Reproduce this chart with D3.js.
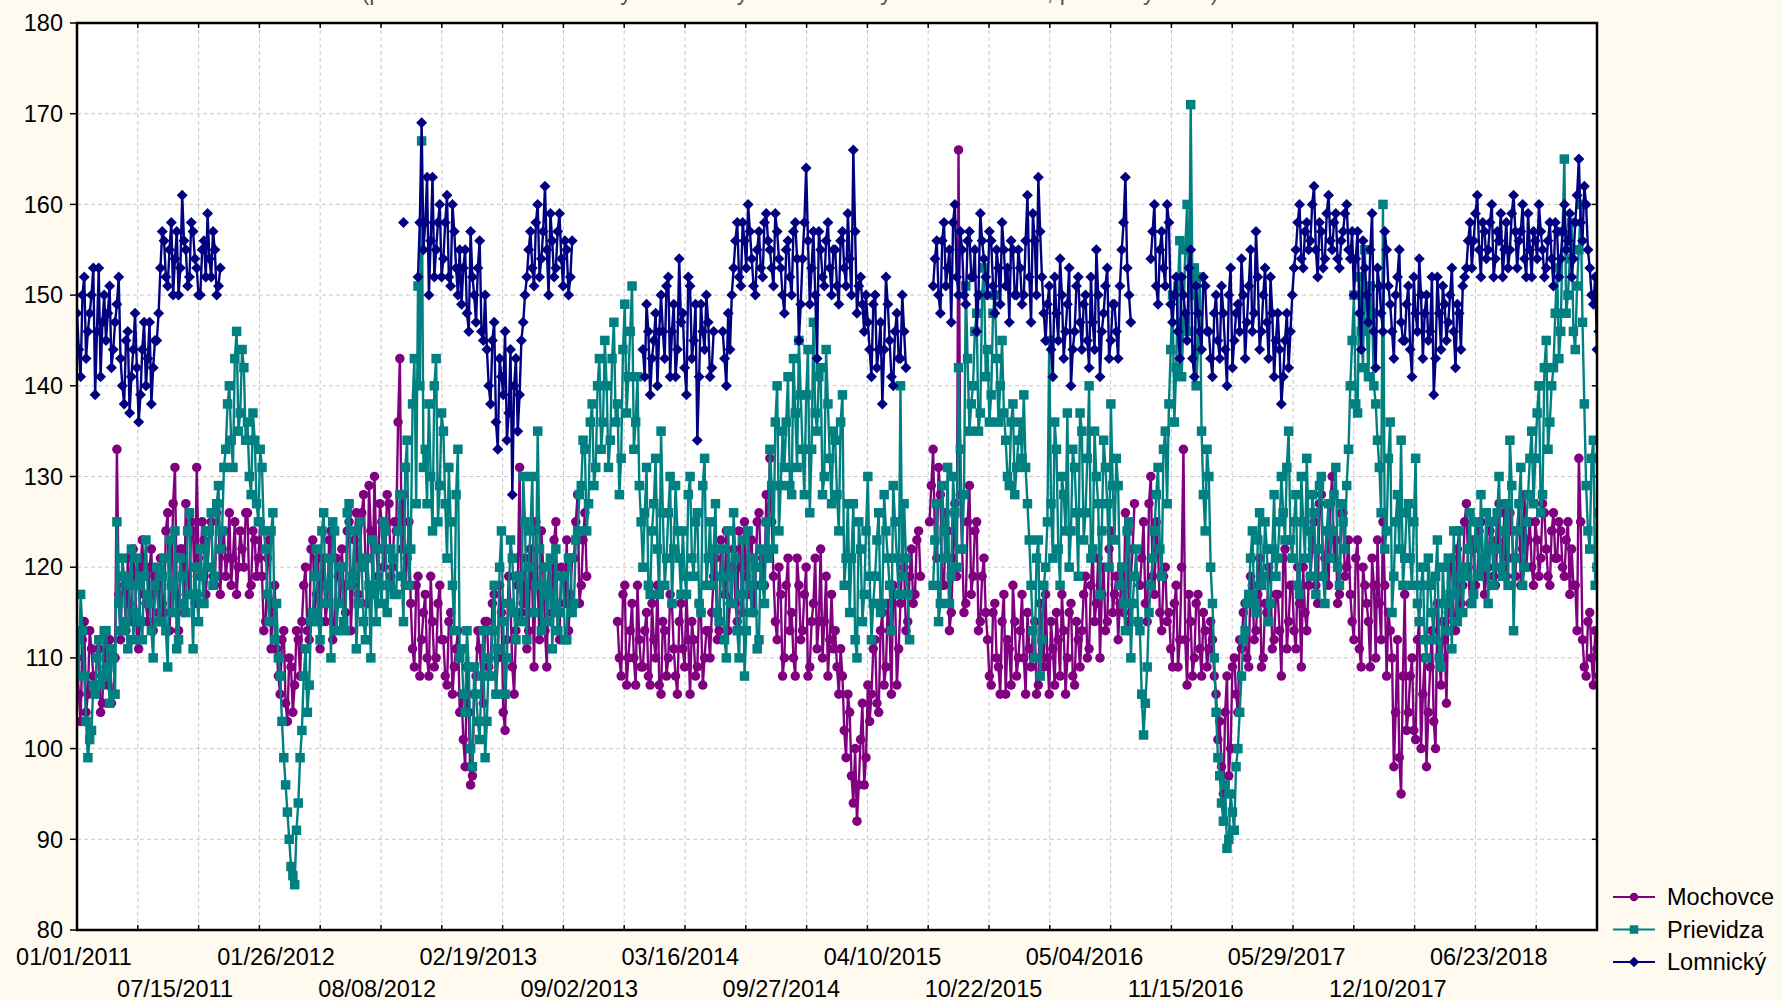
<!DOCTYPE html>
<html>
<head>
<meta charset="utf-8">
<script src="https://cdn.jsdelivr.net/npm/d3@7"></script>
<style>
  body { margin: 0; background: #fffaf0; }
  svg { display: block; font-family: "Liberation Sans", Arial, sans-serif; }
</style>
</head>
<body>
<svg id="chart"></svg>
<script>
// values, twice a week.
// [first week since 01/01/2011, values...]; *Mid arrays sit half a week later
const mochovce = [
  [0, [110,103,114,106,111]],
  [5, [107,111,105,109,112,106]],
  [11, [133]],
  [12, [112,118,121,114,119,111,123,116,120,113,118]],
  [23, [121,115,126,118,131,113,122,127,117,124,131,119,123]],
  [36, [120,125,118,127,122,119,126,121,117,124,120,126,118,123,121]],
  [51, [119,114,123,116]],
  [55, [111,106,113,103,109,107,112]],
  [62, [114,120,112,123,117,111,121,116,124,113,119,122,115,125]],
  [76, [118,126,121,128,116,124,130,119,125,122,127,120]],
  [88, [124,143,128,121]],
  [92, [116,109,119,112,117,108,114,110,118]],
  [101, [112,107,115,109,113,106,98,104,97,108,111,105]],
  [113, [114,108,117,110,115,102,119,109,113,131]],
  [123, [116,111,122,109,118,124,113,120,115,125,112,119,123,117]],
  [137, [121,128,118,126]],
  [149, [114,108,118,110,116,107,112]],
  [156, [109,115,107,112,118,106,113,110,116,108,114,111,117,106,112,109,115,110,113]],
  [175, [115,121,113,119,124,116,122,114,120,125,117,123,118,126,121]],
  [190, [128,132]],
  [192, [119,112,117,110,121,115,108,118,113,120,109,116,111,122,114,108,117]],
  [209, [113,106]],
  [211, [108,99,104,94,92,101,96,107]],
  [219, [106,112,104,115,109,113,118,107,116,120,114,122,117,124]],
  [235, [125,133,121,128]],
  [239, [118,124,115,127,166,122,116,129,119,125,114,121]],
  [251, [112,107,116,109,114,106,111,118,108,113,110,115]],
  [263, [109,114,107,112,117,106,111,115,108,113,110,116,107,112]],
  [277, [113,119,111,122,116,110,120,114,124,117,112]],
  [288, [120,126,114,122]],
  [293, [118,125,114,130,117,122,113,120]],
  [301, [115,109,118,112,133,107,114,110,117,108,113,111]],
  [313, [112,106,103,95,108,100,110,104]],
  [321, [111,116,109,118,113,121,110,115,119,112,117,108,122,114,118,111,116,120,113]],
  [340, [119,125,116,128,121,118,130,123,117,126,120]],
  [351, [117,112,123,109,118,114,121,110,116,125,108,113]],
  [363, [98,112,95,117]],
  [367, [104,110,101,114,106,98,109,103,116,107,112]],
  [378, [115,121,113,124,118,127,116,122,119,125,117]],
  [389, [120,125,118,127,122,119,126,121,124,118,128,123,120,125,119,127,122,118,126,121,124,119,125,122]],
  [413, [118,132,112,108,115,107,111,109]]
];
const mochovceMid = [
  [0, [106,112,104,113,108]],
  [5, [110,104,112,107,105,110]],
  [11, [117]],
  [12, [119,113,116,122,112,120,117,114,122,119,115]],
  [23, [116,124,113,127,117,122,115,119,125,116,121,125,117]],
  [36, [124,119,126,117,124,121,118,125,120,122,126,117,124,119,125]],
  [51, [113,121,111,118]],
  [55, [108,112,105,110,104,113,108]],
  [62, [118,113,122,115,121,118,114,123,112,121,116,118,124,113]],
  [76, [123,117,126,121,129,118,122,127,120,128,119,125]],
  [88, [136,122,118,125]],
  [92, [111,118,108,115,110,119,109,116,112]],
  [101, [108,114,106,111,104,101,109,96,106,113,108,114]],
  [113, [109,116,106,118,104,112,116,106,118,115]],
  [123, [121,113,118,125,112,120,109,117,123,113,120,116,113,121]],
  [137, [125,116,123,119]],
  [149, [110,117,107,113,110,118,109]],
  [156, [113,108,116,110,107,114,108,117,111,106,116,109,112,114,108,116,107,113,110]],
  [175, [119,112,123,117,113,120,116,124,115,119,123,115,125,120,118]],
  [190, [121,125]],
  [192, [114,120,108,118,113,110,121,112,117,108,114,121,114,110,119,112,111]],
  [209, [109,111]],
  [211, [102,106,97,100,96,105,99,103]],
  [219, [111,105,113,107,116,106,117,111,121,113,119,116,123,119]],
  [235, [129,123,131,118]],
  [239, [126,113,121,119,128,115,125,117,124,113,119,115]],
  [251, [108,115,110,106,117,112,107,114,110,117,106,111]],
  [263, [113,106,116,109,110,114,107,112,117,106,115,108,114,109]],
  [277, [117,110,118,114,121,117,113,122,115,119,116]],
  [288, [115,124,119,127]],
  [293, [121,116,127,119,125,115,119,114]],
  [301, [111,116,109,120,112,117,108,116,111,115,109,114]],
  [313, [108,101,98,104,97,109,106,112]],
  [321, [115,110,119,112,117,109,116,120,111,117,113,121,111,118,113,120,109,115,118]],
  [340, [122,118,127,119,124,127,121,116,126,119,123]],
  [351, [114,121,111,120,116,109,118,123,112,118,115,110]],
  [363, [104,99,108,102]],
  [367, [108,102,112,100,110,104,113,100,110,114,105]],
  [378, [120,114,122,116,125,120,123,118,124,121,119]],
  [389, [124,119,123,120,126,121,124,119,127,122,120,125,118,123,121,126,119,124,121,125,120,123,117,118]],
  [413, [113,125,109,114,110,113,108,112]]
];

const prievidza = [
  [0, [112,117,108,99,102]],
  [5, [106,112,108,113,105,110]],
  [11, [125,113,119,111,122,115,118,112,123,116,110,120]],
  [23, [114,121,109,118,124,112,119,115,126,111,117,122,116]],
  [36, [120,126,119,129,124]],
  [41, [133,140,131,146,137,142]],
  [47, [136,128,134,125,131]],
  [52, [122,114,126,116]],
  [56, [108,99,93,87,85,94]],
  [62, [102,111,107]],
  [65, [115,122,112,126,118,110,124,116,120,113,127]],
  [76, [119,111,125,114,121,110,117]],
  [83, [122,116,124,118,121]],
  [88, [117,128,114,134,122,143]],
  [94, [151,167,133]],
  [97, [138,124,143,129,135,121]],
  [103, [125,113,133]],
  [106, [111,104,109,98,106,101,113,103]],
  [114, [108,118,111,124,106,116,121,112]],
  [122, [119,130,112,124,115,135]],
  [128, [113,120,117,111,122,115,119,112,121,116]],
  [138, [124,129,133,127,138,131,143,136,140,134,147,138,132,149,141,151,136,129]],
  [156, [120,131,117,127,122,135,118,126,116,129,121]],
  [167, [124,117,130,119,126,115,132,121,118,127]],
  [177, [114,122,110,119,126,113,117,108,124,115,120,112,118]],
  [190, [125,133,122,140,129]],
  [195, [131,141,128,137,145,133,139,126,147,135,142,130,138,127]],
  [209, [134,124,139,121]],
  [213, [115,127,110,122,117,130,112]],
  [220, [119,126,116,124,118,129,121,140,127,117]],
  [236, [118,127,116,124,131,119,126,142,122,151,135]],
  [247, [140,148,137,153,144,139,150,136,145]],
  [256, [134,129,138,131,136]],
  [261, [139,127]],
  [263, [118,110,123,112,120]],
  [268, [145,121,133,118,128,137,124,131,119,135,126,140,122,130,117,134,127,138,123,129]],
  [288, [120,113,125,116,122]],
  [293, [113,101.5,109,118]],
  [297, [124,131,119,135]],
  [301, [138,150,142,156,147,160,171,153,144]],
  [310, [135,124,130,116]],
  [314, [104,97,92,89,95,91,100]],
  [321, [108,113]],
  [323, [117,124,115,126,119,122,116,128,121]],
  [332, [130,123,135]],
  [335, [121,128,117,125,132,119,126,122,130,116,127,124,131,118,125,129]],
  [351, [140,150,137,146,155,141,148,138]],
  [359, [131,160,124,136,119,128,134,121]],
  [367, [127,118,132]],
  [370, [114,120,110,118,112,123,109,116,121,111,117,124,115]],
  [383, [119,126,117,123,128,120,116,125]],
  [391, [122,130,119,127,134,113,124,131,120,128,135]],
  [402, [132,140,128,145,136]],
  [407, [142,153,146,165,150,158,144,155,147]],
  [416, [129,122,134,120,128]]
];
const prievidzaMid = [
  [0, [108,113,103,101,107]],
  [5, [110,107,113,109,111,106]],
  [11, [116,121,114,118,112,121,114,119,117,113,118,114]],
  [23, [119,113,123,115,111,121,116,124,117,120,114,119,124]],
  [36, [124,118,127,122,131]],
  [41, [138,134,143,135,144,134]],
  [47, [130,137,127,133,124]],
  [52, [117,124,112,110]],
  [56, [103,96,90,86,91,99]],
  [62, [108,104,114]],
  [65, [119,114,124,116,121,125,113,120,114,126,118]],
  [76, [124,116,120,112,118,123,114]],
  [83, [118,125,115,122,117]],
  [88, [124,119,131,118,138,127]],
  [94, [140,131,127]],
  [97, [130,140,125,137,127,131]],
  [103, [118,128,110]],
  [106, [106,113,100,109,103,108,99,110]],
  [114, [113,106,120,114,110,123,115,119]],
  [122, [114,125,120,130,118,122]],
  [128, [118,114,121,116,113,119,112,121,115,123]],
  [138, [128,134,124,136,129,140,133,145,131,143,136,128,144,137,146,133,141,125]],
  [156, [126,118,124,132,117,126,121,130,122,124,117]],
  [167, [119,128,121,125,116,129,118,125,122,115]],
  [177, [119,112,124,116,121,110,123,113,118,121,111,122,116]],
  [190, [121,129,136,124,135]],
  [195, [136,129,143,131,139,128,144,133,137,141,128,144,132,135]],
  [209, [128,136,118,127]],
  [213, [121,112,125,114,124,119,116]],
  [220, [123,115,128,121,113,125,117,119,121,112]],
  [236, [123,114,129,121,116,130,120,133,128,143,138]],
  [247, [146,135,150,141,136,148,143,140,137]],
  [256, [130,136,128,134,132]],
  [261, [131,123]],
  [263, [113,121,108,118,125]],
  [268, [127,136,122,130,124,120,133,126,137,123,132,121,135,127,124,131,120,129,132,118]],
  [288, [116,124,110,119,114]],
  [293, [106,105,115,121]],
  [297, [128,122,133,127]],
  [301, [144,136,151,141,155,146,150,140,152]],
  [310, [128,133,120,110]],
  [314, [99,94,96,90,93,98,104]],
  [321, [112,116]],
  [323, [121,116,123,118,125,114,122,119,125]],
  [332, [126,131,123]],
  [335, [125,118,130,121,124,128,117,129,119,124,121,128,120,127,122,133]],
  [351, [145,138,152,142,147,151,140,134]],
  [359, [126,122,132,115,125,122,118,126]],
  [367, [121,125,116]],
  [370, [118,112,121,115,119,110,120,113,117,124,114,119,120]],
  [383, [122,116,125,119,121,126,122,118]],
  [391, [126,120,124,118,129,121,127,118,125,132,127]],
  [402, [137,126,142,133,140]],
  [407, [148,143,157,148,154,146,151,160,138]],
  [416, [124,132,118,126,122]]
];

const lomnicky = [
  [0, [148,141,152,146,150,139,153,147,145,151,144,149]],
  [12, [143,138,146,141,148,136,144,140,147,142,145]],
  [23, [153,156,151,158,154,150,161,155,152,157,153,150,156,159,152,155,151]],
  [90, [158]],
  [94, [152,169,158,150,163,155,160]],
  [101, [154,161,151,157,150]],
  [106, [149,155,146,152,147,156,145]],
  [113, [144,138,147,133,141,146,137,128,143,139]],
  [123, [147,152]],
  [125, [157,151,160,154,162,150,156,153,159,151,155,152]],
  [156, [144,149,139,145,140]],
  [161, [150,143,152,146,141,154,148,139,151,145,134,149,144,147]],
  [175, [142]],
  [178, [146,140,144]],
  [181, [153,158,151,156,160,154,150,157,152,159,155,151,157,153,148,156,150,158,145,154,164,149,157,143,155,151,158,150]],
  [209, [155,149,157,151,154,166,148,152,146]],
  [218, [147,141,150,144,138,152,145,140,148,143,146]],
  [236, [151,156,148,158,153,147,160,150,155,149,157,152,146,159,154,150,156,148,153,158,151,147,155,150,153]],
  [261, [150,161,147,156,163,152]],
  [267, [145,151,141,148,154,143,149,140,146,152,144,150,142,147,155,141,148,153,145,149,143]],
  [288, [155,163,150]],
  [296, [154,160,149,157,151,158,147,152,143,150,145,155,141,148,144,151]],
  [312, [146,141,150,143,148,140,153,145]],
  [320, [149,154,143,151,146,157,144,150,147,152,141,148,138,145,142,150]],
  [336, [155,160,153,158,156,162,152,157,154,161,155,159,153,157,160,154]],
  [352, [150,157,144,153,147,159,142,151,146,155,149,143,152,147]],
  [366, [145,151,141,148,154,143,150,146,139,152,144,149,147,153,142,148,151]],
  [383, [153,158,156,161,152,157,155,160,154,156,152,158,155,161,153,157,154,159,152,156,160,155,153,158,151,157,154,160,156,152,158]],
  [414, [165,156,160,153,149,144,147]]
];
const lomnickyMid = [
  [0, [144,150,143,148,153,146,141,150,148,142,147,152]],
  [12, [140,145,137,144,142,139,147,143,138,145,148]],
  [23, [157,152,155,150,157,153,156,151,158,154,150,155,152,154,157,150,153]],
  [94, [158,155,163,156,152,158,152]],
  [101, [158,152,160,153,155]],
  [106, [153,148,157,150,153,146,150]],
  [113, [140,145,136,143,139,134,144,140,135,145]],
  [123, [150,155]],
  [125, [153,158,152,157,155,159,152,157,154,156,150,156]],
  [156, [141,146,143,148,146]],
  [161, [146,151,141,149,144,147,142,152,143,149,141,146,150,141]],
  [175, [146]],
  [178, [143,148,150]],
  [181, [156,152,158,153,157,151,155,153,158,156,153,159,154,150,155,152,157,154,149,158,156,153,150,157,152,156,153,155]],
  [209, [151,156,153,159,150,157,151,149,150]],
  [218, [144,149,142,147,144,149,141,146,143,150,142]],
  [236, [154,150,156,151,155,158,152,157,150,156,152,155,150,156,152,157,151,155,149,155,153,156,150,155,149]],
  [261, [156,152,159,150,157,148]],
  [267, [149,144,152,145,150,146,153,144,151,147,149,145,152,144,150,146,151,143,149,146,151]],
  [288, [158,153,147]],
  [296, [157,151,155,153,160,149,150,146,152,148,153,143,151,146,152,146]],
  [312, [143,148,145,151,144,150,142,148]],
  [320, [146,150,147,155,148,152,146,153,143,148,145,144,141,148,146,153]],
  [336, [158,154,157,155,160,155,158,153,159,156,158,154,156,159,155,157]],
  [352, [154,148,156,150,155,146,153,148,157,151,146,150,155,145]],
  [366, [149,144,152,146,150,148,145,152,143,148,151,145,150,146,149,144,152]],
  [383, [156,153,159,155,158,154,158,152,157,159,155,153,159,157,156,160,152,155,157,154,157,152,156,154,158,152,157,155,159,154,161]],
  [414, [158,162,155,150,152,146,144]]
];

const seriesNames = ["Mochovce", "Prievidza", "Lomnický"];
const yTicks = [80, 90, 100, 110, 120, 130, 140, 150, 160, 170, 180];
const labelStepDays = 195;
const labelCount = 15;
const spanDays = 2933;
const gridDivisions = 25;
const titleText = "(priemerné denné hodnoty maximálnych 8-hodinových koncentrácií, prízemný ozón)";

const colors = ["#800080", "#008080", "#000080"];
const shapes = ["circle", "square", "diamond"];

const W = 1782, H = 1001;
const plot = { left: 77, right: 1597, top: 23, bottom: 930 };
const fontSize = 23.5;
const DAY = 864e5;

const start = new Date(Date.UTC(2011, 0, 1));
const atDay = d => new Date(start.getTime() + d * DAY);

const svg = d3.select("#chart").attr("width", W).attr("height", H);

const x = d3.scaleUtc()
  .domain([start, atDay(spanDays)])
  .range([plot.left, plot.right]);

const y = d3.scaleLinear()
  .domain([80, 180])
  .range([plot.bottom, plot.top]);

svg.append("rect")
  .attr("x", plot.left).attr("y", plot.top)
  .attr("width", plot.right - plot.left).attr("height", plot.bottom - plot.top)
  .attr("fill", "#fff");

svg.append("defs").append("clipPath").attr("id", "clip")
  .append("rect")
  .attr("x", plot.left).attr("y", plot.top)
  .attr("width", plot.right - plot.left).attr("height", plot.bottom - plot.top);

// grid
const gridDays = d3.range(1, gridDivisions).map(i => atDay(i * spanDays / gridDivisions));
const grid = svg.append("g").attr("stroke", "#c8c8c8").attr("stroke-width", 1).attr("stroke-dasharray", "4,3");
grid.selectAll(".gx").data(gridDays).join("line")
  .attr("x1", d => x(d)).attr("x2", d => x(d))
  .attr("y1", plot.top).attr("y2", plot.bottom);
grid.selectAll(".gy").data(yTicks.slice(1, -1)).join("line")
  .attr("x1", plot.left).attr("x2", plot.right)
  .attr("y1", d => y(d)).attr("y2", d => y(d));

// tick marks
const ticks = svg.append("g").attr("stroke", "#000").attr("stroke-width", 1.5);
gridDays.forEach(d => {
  ticks.append("line").attr("x1", x(d)).attr("x2", x(d)).attr("y1", plot.bottom).attr("y2", plot.bottom - 5);
  ticks.append("line").attr("x1", x(d)).attr("x2", x(d)).attr("y1", plot.top).attr("y2", plot.top + 5);
});
yTicks.forEach(v => {
  ticks.append("line").attr("x1", plot.left - 7).attr("x2", plot.left).attr("y1", y(v)).attr("y2", y(v));
  ticks.append("line").attr("x1", plot.right).attr("x2", plot.right - 5).attr("y1", y(v)).attr("y2", y(v));
});

// series
function toRuns(segs, midSegs) {
  const pts = [];
  segs.forEach(([w0, vals]) => vals.forEach((v, i) => pts.push({ day: (w0 + i) * 7, v })));
  midSegs.forEach(([w0, vals]) => vals.forEach((v, i) => pts.push({ day: (w0 + i) * 7 + 3.5, v })));
  pts.sort((a, b) => a.day - b.day);
  pts.forEach(p => p.date = atDay(p.day));
  const runs = [];
  let cur = [];
  pts.forEach((p, i) => {
    if (i > 0 && p.day - pts[i - 1].day > 4) { runs.push(cur); cur = []; }
    cur.push(p);
  });
  runs.push(cur);
  return { pts, runs };
}

function markerPath(shape, s) {
  if (shape === "circle") return d3.symbol(d3.symbolCircle, Math.PI * s * s / 4)();
  if (shape === "square") return `M${-s / 2},${-s / 2}h${s}v${s}h${-s}Z`;
  return `M0,${-s / 2 - 1}L${s / 2 + 1},0L0,${s / 2 + 1}L${-s / 2 - 1},0Z`;
}

const line = d3.line().x(d => x(d.date)).y(d => y(d.v));
const plotG = svg.append("g").attr("clip-path", "url(#clip)");

[[mochovce, mochovceMid], [prievidza, prievidzaMid], [lomnicky, lomnickyMid]].forEach(([segs, mid], si) => {
  const { pts, runs } = toRuns(segs, mid);
  const g = plotG.append("g");
  g.selectAll("path.l").data(runs).join("path")
    .attr("class", "l")
    .attr("d", line)
    .attr("fill", "none")
    .attr("stroke", colors[si])
    .attr("stroke-width", 2.4);
  const mp = markerPath(shapes[si], si === 2 ? 9 : 9.5);
  g.selectAll("path.m").data(pts).join("path")
    .attr("class", "m")
    .attr("d", mp)
    .attr("transform", d => `translate(${x(d.date)},${y(d.v)})`)
    .attr("fill", colors[si]);
});

// frame
svg.append("rect")
  .attr("x", plot.left).attr("y", plot.top)
  .attr("width", plot.right - plot.left).attr("height", plot.bottom - plot.top)
  .attr("fill", "none").attr("stroke", "#000").attr("stroke-width", 2.5);

// y labels
svg.append("g").selectAll("text").data(yTicks).join("text")
  .attr("x", plot.left - 14).attr("y", d => y(d)).attr("dy", "0.35em")
  .attr("text-anchor", "end").attr("font-size", fontSize)
  .text(d => d);

// x labels, alternating rows
const fmt = d3.utcFormat("%m/%d/%Y");
const labelDates = d3.range(labelCount).map(k => atDay(k * labelStepDays));
svg.append("g").selectAll("text").data(labelDates).join("text")
  .attr("x", d => x(d) - 3)
  .attr("y", (d, i) => i % 2 === 0 ? 957 : 989)
  .attr("dy", "0.35em")
  .attr("text-anchor", "middle").attr("font-size", fontSize)
  .text(d => fmt(d));

// subtitle, cut off at the top edge as in the source
svg.append("text")
  .attr("x", 790).attr("y", 0)
  .attr("text-anchor", "middle").attr("font-size", fontSize)
  .attr("textLength", 857).attr("lengthAdjust", "spacingAndGlyphs")
  .attr("fill", "#555")
  .text(titleText);

// legend
const legend = svg.append("g").attr("transform", "translate(1613, 897)");
seriesNames.forEach((name, i) => {
  const row = legend.append("g").attr("transform", `translate(0, ${i * 32.5})`);
  row.append("line").attr("x1", 0).attr("x2", 42).attr("stroke", colors[i]).attr("stroke-width", 2);
  row.append("path").attr("d", markerPath(shapes[i], 8.5)).attr("transform", "translate(21,0)").attr("fill", colors[i]);
  row.append("text").attr("x", 54).attr("dy", "0.35em").attr("font-size", fontSize).text(name);
});
</script>
</body>
</html>
